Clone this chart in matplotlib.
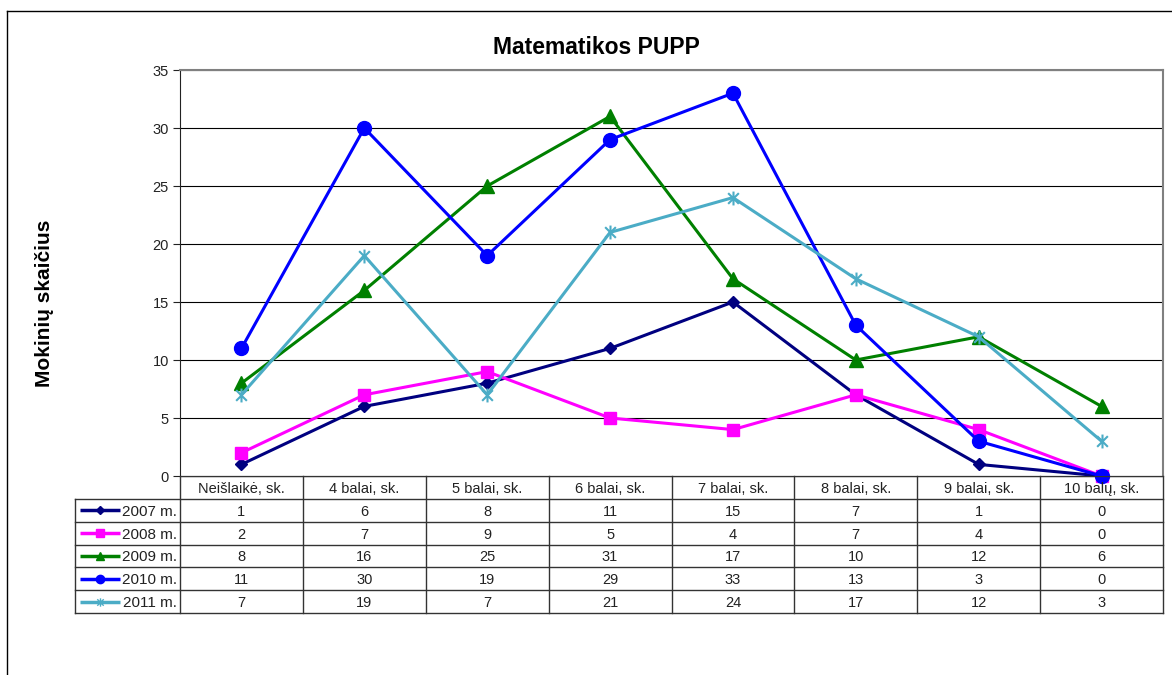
import numpy as np
import matplotlib
matplotlib.use("Agg")
import matplotlib.pyplot as plt
from matplotlib.lines import Line2D
from matplotlib.path import Path

plt.rcParams['font.family'] = ['Liberation Sans', 'DejaVu Sans']

# data
categories = ["Neišlaikė, sk.", "4 balai, sk.", "5 balai, sk.", "6 balai, sk.",
              "7 balai, sk.", "8 balai, sk.", "9 balai, sk.", "10 balų, sk."]
series_names = ["2007 m.", "2008 m.", "2009 m.", "2010 m.", "2011 m."]
v2007 = [1, 6, 8, 11, 15, 7, 1, 0]
v2008 = [2, 7, 9, 5, 4, 7, 4, 0]
v2009 = [8, 16, 25, 31, 17, 10, 12, 6]
v2010 = [11, 30, 19, 29, 33, 13, 3, 0]
v2011 = [7, 19, 7, 21, 24, 17, 12, 3]
all_values = [v2007, v2008, v2009, v2010, v2011]

# excel style asterisk marker: x plus vertical bar
star = Path([(-1, -1), (1, 1), (-1, 1), (1, -1), (0, -1.3), (0, 1.3)],
            [Path.MOVETO, Path.LINETO, Path.MOVETO, Path.LINETO, Path.MOVETO, Path.LINETO])

colors = ['#000080', '#FF00FF', '#008000', '#0000FF', '#4BACC6']
markers = ['D', 's', '^', 'o', star]
msizes = [6.5, 9, 10.5, 10, 10]

W, H = 1172, 675
fig = plt.figure(figsize=(W / 100, H / 100), dpi=100)

# outer chart frame
fig.add_artist(Line2D([7 / W, 7 / W], [0, 1 - 11 / H], color='black', lw=1))
fig.add_artist(Line2D([7 / W, 1], [1 - 11 / H, 1 - 11 / H], color='black', lw=1))

px_left, px_right, px_top, px_bottom = 180, 1163, 70, 476
ax = fig.add_axes([px_left / W, 1 - px_bottom / H, (px_right - px_left) / W, (px_bottom - px_top) / H])

x = np.arange(len(categories))
for vals, c, m, ms in zip(all_values, colors, markers, msizes):
    mew = 1.5 if m is star else 1
    ax.plot(x, vals, color=c, lw=2.2, marker=m, markersize=ms, markeredgecolor=c,
            markerfacecolor=c, markeredgewidth=mew, clip_on=False, zorder=3)

ax.set_xlim(-0.5, len(categories) - 0.5)
ax.set_ylim(0, 35)
ax.set_yticks(range(0, 36, 5))
ax.set_xticks([])
ax.yaxis.grid(True, color='black', lw=0.8)
ax.set_axisbelow(True)
ax.tick_params(axis='y', direction='out', length=5, labelsize=10.5, colors='#222222', pad=3)
for s in ['top', 'right']:
    ax.spines[s].set_color('#808080')
    ax.spines[s].set_linewidth(1.5)
ax.spines['left'].set_color('#222222')
ax.spines['bottom'].set_color('#222222')

fig.text(596 / W, 1 - 47 / H, "Matematikos PUPP", fontsize=16.5, fontweight='bold',
         ha='center', va='center')
fig.text(45 / W, 1 - 303 / H, "Mokinių skaičius", rotation=90, fontsize=15,
         fontweight='bold', ha='center', va='center')

# data table below the plot
tb_left, tb_bottom = 75, 613
cat_px = (px_right - px_left) / len(categories)
left_val = -0.5 - (px_left - tb_left) / cat_px
tax = fig.add_axes([tb_left / W, 1 - tb_bottom / H, (px_right - tb_left) / W, (tb_bottom - px_bottom) / H])
tax.set_xlim(left_val, len(categories) - 0.5)
nrows = len(series_names) + 1
tax.set_ylim(nrows, 0)
tax.axis('off')

lc = '#333333'
tax.plot([-0.5, len(categories) - 0.5], [0, 0], color=lc, lw=1)
for r in range(1, nrows + 1):
    tax.plot([left_val, len(categories) - 0.5], [r, r], color=lc, lw=1, clip_on=False)
for i in range(len(categories) + 1):
    tax.plot([i - 0.5, i - 0.5], [0, nrows], color=lc, lw=1, clip_on=False)
tax.plot([left_val, left_val], [1, nrows], color=lc, lw=1, clip_on=False)

for i, cat in enumerate(categories):
    tax.text(i, 0.5, cat, ha='center', va='center_baseline', fontsize=10.5, color='#222222')

col_w = -0.5 - left_val
for r, (name, vals, c, m) in enumerate(zip(series_names, all_values, colors, markers), start=1):
    k0 = left_val + col_w * 0.05
    k1 = left_val + col_w * 0.43
    tax.plot([k0, k1], [r + 0.5, r + 0.5], color=c, lw=2.5, solid_capstyle='butt')
    tax.plot([(k0 + k1) / 2], [r + 0.5], marker=m, color=c, markersize=4 if m == 'D' else 6,
             markeredgecolor=c, markeredgewidth=1)
    tax.text(-0.5 - col_w * 0.03, r + 0.5, name, ha='right', va='center_baseline', fontsize=11,
             color='#222222')
    for i, v in enumerate(vals):
        tax.text(i, r + 0.5, str(v), ha='center', va='center_baseline', fontsize=10.5, color='#222222')

fig.savefig("out.png", dpi=100)
